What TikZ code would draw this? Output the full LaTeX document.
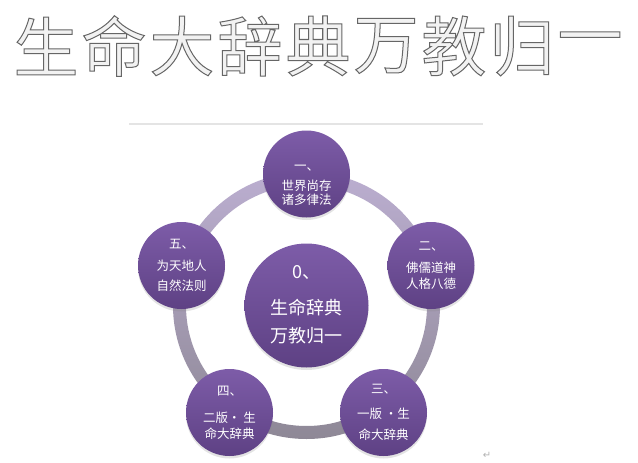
\documentclass[tikz,border=0pt]{standalone}
\usepackage{fontspec}
\setmainfont{Noto Sans CJK SC}
\newfontfamily\symbolfont{DejaVu Sans}
\usetikzlibrary{shadows}
\definecolor{petaltop}{HTML}{7D5CA8}
\definecolor{petalbot}{HTML}{5E4184}
\definecolor{ringtop}{HTML}{BBAED0}
\definecolor{ringbot}{HTML}{8E8896}
\definecolor{titlefill}{HTML}{F2F2F2}
\definecolor{hairline}{HTML}{E4E4E4}
% outlined glyphs: fill + stroke render mode
\newcommand{\embossed}[1]{\special{pdf:literal direct 2 Tr 1 w 0.4 G}#1\special{pdf:literal direct 0 Tr}}

\tikzset{
  petal/.style={circle, minimum size=87pt, inner sep=0pt, top color=petaltop, bottom color=petalbot,
    drop shadow={opacity=0.22, shadow xshift=0pt, shadow yshift=-2.5pt}},
  petaltext/.style={text=white, align=center, inner sep=0pt, font=\fontsize{12.5}{14}\selectfont},
  titlechar/.style={font=\fontsize{65}{65}\selectfont, inner sep=0pt, text=titlefill},
}

\begin{document}
\begin{tikzpicture}[x=1pt,y=-1pt]
  \useasboundingbox (0,0) rectangle (638,463);

  % Embossed title
  \foreach \c [count=\i] in {生,命,大,辞,典,万,教,归,一}
    \node[titlechar] (title\i) at (-22+68*\i,46) {\embossed{\c}};

  % Hairline under the title
  \coordinate (hairL) at (129,124);
  \coordinate (hairR) at (483,124);
  \draw[hairline,line width=1.5pt] (hairL) -- (hairR);

  % Ring behind the petals
  \coordinate (hub) at (306.5,305.5);
  \shade[top color=ringtop,bottom color=ringbot,even odd rule] (hub) circle (133.5) (hub) circle (120.5);

  % Centre
  \node[petal,minimum size=124pt] (core) at (hub) {};
  \node[petaltext,font=\fontsize{18}{20}\selectfont] (core-t) at (306.5,304) {\strut 0、\\[14pt]生命辞典\\[8pt]万教归一};

  % Petals
  \foreach \name/\x/\y in {one/306.5/174, two/431/265.5, three/383.5/412.5, four/229.5/412.5, five/181.5/265.5}
    \node[petal] (\name) at (\x,\y) {};

  \node[petaltext] (one-t) at (306.5,183) {\strut 一、\\[5pt]世界尚存\\诸多律法};
  \node[petaltext] (two-t) at (431,265) {\strut 二、\\[6pt]佛儒道神\\[2pt]人格八德};
  \node[petaltext] (three-t) at (383.5,412) {\strut 三、\\[9pt]一版 ·生\\[7pt]命大辞典};
  \node[petaltext] (four-t) at (229.5,412.5) {\strut 四、\\[11pt]二版· 生\\[2pt]命大辞典};
  \node[petaltext] (five-t) at (181.5,265) {\strut 五、\\[6pt]为天地人\\[6pt]自然法则};

  \node[font=\symbolfont\fontsize{10}{10}\selectfont,text=gray!60] (mark) at (487,455) {↵};
\end{tikzpicture}
\end{document}
